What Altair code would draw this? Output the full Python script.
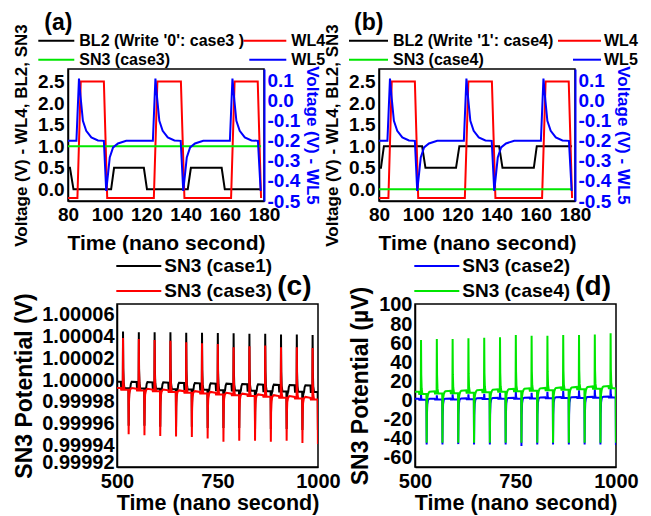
import altair as alt
import pandas as pd

FONT = "Liberation Sans"
GREEN = "#00e600"

# ---------------- panels (a) and (b): 80-180 ns ----------------
X_TOP_TICKS = [80, 100, 120, 140, 160, 180]
Y_LEFT_TICKS = [0.0, 0.5, 1.0, 1.5, 2.0, 2.5]
Y_RIGHT_TICKS = [-0.5, -0.4, -0.3, -0.2, -0.1, 0.0, 0.1]

WL4_T = [80, 84.8, 86.5, 98.3, 100.0, 123.8, 125.6, 137.6, 139.4, 163.2, 165.0, 176.8, 178.5]
WL4_V = [-0.2, -0.2, 2.5, 2.5, -0.2, -0.2, 2.5, 2.5, -0.2, -0.2, 2.5, 2.5, -0.2]

BL2_W0_T = [80, 81.0, 82.8, 102.0, 103.5, 118.7, 120.3, 141.1, 142.7, 158.4, 160.0, 178.5]
BL2_W0_V = [0.5, 0.5, 0.0, 0.0, 0.5, 0.5, 0.0, 0.0, 0.5, 0.5, 0.0, 0.0]

BL2_W1_T = [80, 81.0, 82.5, 102.0, 103.7, 119.3, 121.0, 141.3, 143.0, 159.0, 160.5, 178.5]
BL2_W1_V = [0.5, 0.5, 1.0, 1.0, 0.5, 0.5, 1.0, 1.0, 0.5, 0.5, 1.0, 1.0]

SN3_C3_T = [80, 178.5]
SN3_C3_V = [1.0, 1.0]
SN3_C4_T = [80, 178.5]
SN3_C4_V = [0.0, 0.0]

WL5_T = [80, 84.3, 85.6, 86.4, 87.6, 89.3, 91.9, 95.3, 98.3, 99.5, 100.4, 101.3, 103.0, 105.5, 109.7,
         123.3, 124.6, 125.4, 126.6, 128.3, 130.9, 134.3, 137.5, 138.8, 139.7, 140.6, 142.3, 144.8, 149.0,
         162.6, 163.9, 164.7, 165.9, 167.6, 170.2, 173.6, 176.9, 178.3]
WL5_V = [-0.2, -0.2, 0.11, 0.02, -0.1, -0.15, -0.183, -0.198, -0.2, -0.45, -0.367, -0.283, -0.233, -0.213, -0.2,
         -0.2, 0.11, 0.02, -0.1, -0.15, -0.183, -0.198, -0.2, -0.45, -0.367, -0.283, -0.233, -0.213, -0.2,
         -0.2, 0.11, 0.02, -0.1, -0.15, -0.183, -0.198, -0.2, -0.45]

# ---------------- panels (c) and (d): 500-1000 ns ----------------
X_BOT_TICKS = [500, 750, 1000]
Y_C_TICKS = [0.99992, 0.99994, 0.99996, 0.99998, 1.00000, 1.00002, 1.00004, 1.00006]
Y_D_TICKS = [-60, -40, -20, 0, 20, 40, 60, 80, 100]

UP_T = [515.0, 554.3, 593.6, 632.9, 672.2, 711.5, 750.8, 790.1, 829.4, 868.7, 908.0, 947.3, 986.6]
DOWN_T = [529.0, 568.3, 607.6, 646.9, 686.2, 725.5, 764.8, 804.1, 843.4, 882.7, 922.0, 961.3, 999.8]

# SN3 case1 (V)
C1_PEAK = [1.0000447, 1.0000440, 1.0000440, 1.0000440, 1.0000435, 1.0000435, 1.0000432,
           1.0000430, 1.0000426, 1.0000426, 1.0000420, 1.0000420, 1.0000415]
C1_TROUGH = [0.999958, 0.999958, 0.999957, 0.999957, 0.999957, 0.999956, 0.999956,
             0.999956, 0.999955, 0.999955, 0.999955, 0.999954, 0.999954]
C1_HI = [0.9999985, 0.9999982, 0.9999979, 0.9999976, 0.9999973, 0.9999970, 0.9999967,
         0.9999964, 0.9999961, 0.9999958, 0.9999955, 0.9999952, 0.9999950]
C1_LO = [0.9999925, 0.9999922, 0.9999919, 0.9999916, 0.9999913, 0.9999910, 0.9999907,
         0.9999904, 0.9999901, 0.9999898, 0.9999895, 0.9999892, 0.9999890]
# SN3 case3 (V)
C3_PEAK = [1.0000387, 1.0000378, 1.0000369, 1.0000362, 1.0000347, 1.0000338, 1.0000332,
           1.0000302, 1.0000311, 1.0000317, 1.0000302, 1.0000302, 1.0000296]
C3_TROUGH = [0.9999502, 0.9999493, 0.9999486, 0.9999481, 0.9999477, 0.9999463, 0.9999432,
             0.9999441, 0.9999441, 0.9999432, 0.9999441, 0.9999420, 0.9999411]
C3_LO = [0.9999912, 0.9999905, 0.9999898, 0.9999890, 0.9999883, 0.9999876, 0.9999868,
         0.9999860, 0.9999853, 0.9999846, 0.9999838, 0.9999830, 0.9999822]
C3_HI = [0.9999927, 0.9999920, 0.9999913, 0.9999905, 0.9999898, 0.9999891, 0.9999883,
         0.9999875, 0.9999868, 0.9999861, 0.9999853, 0.9999845, 0.9999837]
# SN3 case2 (uV)
C2_PEAK = [5.5, 5.2, 6.2, 6.2, 6.9, 7.9, 8.9, 7.9, 8.9, 9.7, 10.4, 11.4, 12.5]
C2_TROUGH = [-46.5, -46.5, -46.0, -46.5, -46.5, -46.5, -48.0, -46.5, -46.5, -46.5, -46.5, -46.5, -47.0]
C2_LO = [0.5, 0.7, 0.9, 1.1, 1.3, 1.5, 1.7, 1.9, 2.1, 2.3, 2.5, 2.7, 3.0]
C2_HI = [1.5, 1.7, 1.9, 2.1, 2.3, 2.5, 2.7, 2.9, 3.1, 3.3, 3.5, 3.7, 4.0]
# SN3 case4 (uV)
C4_PEAK = [63.3, 64.4, 64.4, 65.0, 65.7, 66.0, 68.5, 67.8, 67.8, 68.5, 68.5, 69.1, 70.2]
C4_TROUGH = [-44.5, -44.5, -44.5, -44.5, -44.5, -44.5, -44.5, -44.5, -44.5, -44.5, -44.5, -44.5, -44.5]
C4_LO = [6.5, 7.0, 7.5, 8.0, 8.5, 9.0, 9.5, 10.0, 10.5, 11.0, 11.5, 12.0, 12.5]
C4_HI = [9.0, 9.5, 10.0, 10.5, 11.0, 11.5, 12.0, 12.5, 13.0, 13.5, 14.0, 14.5, 15.0]


def pts_df(ts, vs):
    return pd.DataFrame({"t": ts, "v": vs, "i": list(range(len(ts)))})


def sn3_df(peak, trough, lo, hi):
    ts, vs = [500.0], [hi[0]]
    for k in range(len(UP_T)):
        tu, td, L, H = UP_T[k], DOWN_T[k], lo[k], hi[k]
        p, q = peak[k], trough[k]
        seg = [(tu - 5.5, H), (tu - 4.5, L), (tu - 0.6, L), (tu, p),
               (tu + 0.6, L + 0.35 * (p - L)), (tu + 1.6, L + 0.1 * (p - L)), (tu + 3.5, L),
               (td - 0.6, L), (td, q)]
        if td < 999:
            seg += [(td + 0.6, L + 0.35 * (q - L)), (td + 1.6, L + 0.1 * (q - L)), (td + 3.5, L),
                    (td + 4.0, L), (td + 5.5, H - 0.3 * (H - L)), (td + 7.5, H)]
        for t, v in seg:
            ts.append(t)
            vs.append(v)
    return pts_df(ts, vs)


def line(df, color, x, y, w=2.0):
    return alt.Chart(df).mark_line(color=color, strokeWidth=w, clip=True).encode(
        x=x, y=y, order="i:Q")


def rule(x1, x2, y, color, w=2.0):
    return alt.Chart(pd.DataFrame({"k": [0]})).mark_rule(color=color, strokeWidth=w).encode(
        x=alt.value(x1), x2=alt.value(x2), y=alt.value(y))


def label(x, y, txt, size, align="left", baseline="middle"):
    return alt.Chart(pd.DataFrame({"k": [0]})).mark_text(
        font=FONT, fontWeight="bold", fontSize=size, align=align, baseline=baseline, color="black"
    ).encode(x=alt.value(x), y=alt.value(y), text=alt.value(txt))


def spacer(w):
    return alt.Chart(pd.DataFrame({"k": [0]})).mark_point(opacity=0).encode(
        x=alt.value(0), y=alt.value(0)
    ).properties(width=w, height=1, view=alt.ViewBackground(strokeOpacity=0))


NEG = "datum.value < 0 ? '-' + format(-datum.value, '{f}') : format(datum.value, '{f}')"


def top_panel(tag, bl2_t, bl2_v, sn3_t, sn3_v, bl2_name, sn3_name, leg):
    x = alt.X("t:Q", scale=alt.Scale(domain=[80, 180], nice=False, zero=False),
              axis=alt.Axis(values=X_TOP_TICKS, title="Time (nano second)", titleFontSize=21,
                            labelFontSize=19, labelPadding=4, titlePadding=8, ticks=False,
                            tickSize=0, labelFlush=False, labelOverlap=False))
    yl = alt.Y("v:Q", scale=alt.Scale(domain=[-0.27, 2.79], nice=False, zero=False),
               axis=alt.Axis(values=Y_LEFT_TICKS, labelExpr=NEG.format(f=".1f"),
                             title="Voltage (V) - WL4, BL2, SN3", titleFontSize=17,
                             labelFontSize=19, labelPadding=4, titlePadding=7, ticks=False,
                             tickSize=0, labelOverlap=False))
    yr = alt.Y("v:Q", scale=alt.Scale(domain=[-0.5, 0.158], nice=False, zero=False),
               axis=alt.Axis(orient="right", values=Y_RIGHT_TICKS, labelExpr=NEG.format(f=".1f"),
                             title="Voltage (V) - WL5", titleFontSize=17, labelFontSize=19,
                             labelPadding=3, titlePadding=3, ticks=False, tickSize=0,
                             labelOverlap=False, labelColor="blue", titleColor="blue",
                             domainColor="blue", domainWidth=2))
    left = alt.layer(
        line(pts_df(bl2_t, bl2_v), "black", x, yl),
        line(pts_df(WL4_T, WL4_V), "red", x, yl),
        line(pts_df(sn3_t, sn3_v), GREEN, x, yl),
    )
    blue = line(pts_df(WL5_T, WL5_V), "blue", x, yr)
    deco = [
        label(leg[0], -57, tag, 23, baseline="top"),
        rule(leg[1], leg[2], -28.3, "black"),
        label(leg[3], -28.3, bl2_name, 16),
        rule(leg[4], leg[5], -28.3, "red"),
        label(leg[6], -28.3, "WL4", 16),
        rule(leg[1], leg[2], -9.3, GREEN),
        label(leg[3], -9.3, sn3_name, 16),
        rule(leg[7], leg[5], -9.3, "blue"),
        label(leg[6], -9.3, "WL5", 16),
    ]
    return alt.layer(left, blue, *deco).resolve_scale(y="independent").properties(
        width=196, height=132)


def bottom_panel(tag, df1, df2, c1, c2, n1, n2, ydom, yticks, yfmt, ytitle, tpad, flush):
    x = alt.X("t:Q", scale=alt.Scale(domain=[500, 1000], nice=False, zero=False),
              axis=alt.Axis(values=X_BOT_TICKS, format="d", title="Time (nano second)",
                            titleFontSize=21.5, labelFontSize=20, labelPadding=4, titlePadding=1,
                            ticks=False, tickSize=0, labelFlush=False, labelOverlap=False))
    y = alt.Y("v:Q", scale=alt.Scale(domain=ydom, nice=False, zero=False),
              axis=alt.Axis(values=yticks, labelExpr=NEG.format(f=yfmt), title=ytitle,
                            titleFontSize=23, labelFontSize=20, labelPadding=3, titlePadding=tpad,
                            ticks=False, tickSize=0, labelOverlap=False, labelFlush=flush,
                            labelFlushOffset=5))
    deco = [
        rule(-0.7, 44.3, -38, c1),
        label(47.3, -38, n1, 19),
        rule(-0.7, 44.3, -13, c2),
        label(47.3, -13, n2, 19),
        label(160.3, -17, tag, 28),
    ]
    return alt.layer(line(df1, c1, x, y), line(df2, c2, x, y), *deco).properties(
        width=201, height=163)


pa = top_panel("(a)", BL2_W0_T, BL2_W0_V, SN3_C3_T, SN3_C3_V,
               "BL2 (Write '0': case3 )", "SN3 (case3)",
               [-23.7, -29.7, 6.3, 11.3, 175.3, 218.3, 223.3, 181.3])
pb = top_panel("(b)", BL2_W1_T, BL2_W1_V, SN3_C4_T, SN3_C4_V,
               "BL2 (Write '1': case4)", "SN3 (case4)",
               [-25, -30, 9, 14, 179, 222, 225, 194])

pc = bottom_panel("(c)", sn3_df(C1_PEAK, C1_TROUGH, C1_LO, C1_HI),
                  sn3_df(C3_PEAK, C3_TROUGH, C3_LO, C3_HI), "black", "red",
                  "SN3 (case1)", "SN3 (case3)", [0.99992, 1.00007], Y_C_TICKS, ".5f",
                  "SN3 Potential (V)", 5, True)
pd_ = bottom_panel("(d)", sn3_df(C2_PEAK, C2_TROUGH, C2_LO, C2_HI),
                   sn3_df(C4_PEAK, C4_TROUGH, C4_LO, C4_HI), "blue", GREEN,
                   "SN3 (case2)", "SN3 (case4)", [-70, 101], Y_D_TICKS, "d",
                   "SN3 Potential (\u00b5V)", 6, False)

row1 = alt.hconcat(spacer(4), pa, pb, spacing=-4)
row2 = alt.hconcat(spacer(1), alt.hconcat(pc, pd_, spacing=7), spacing=-2)

chart = alt.vconcat(row1, row2, spacing=2).properties(
    padding={"left": 0, "top": 3, "right": 0, "bottom": 0}
).configure_view(stroke="black", strokeWidth=1.5).configure_axis(
    grid=False, labelFont=FONT, titleFont=FONT, labelFontWeight="bold", titleFontWeight="bold",
    labelColor="black", titleColor="black", domainColor="black", domainWidth=1.5
)

chart.save("out.html", embed_options={"renderer": "svg", "actions": False})
